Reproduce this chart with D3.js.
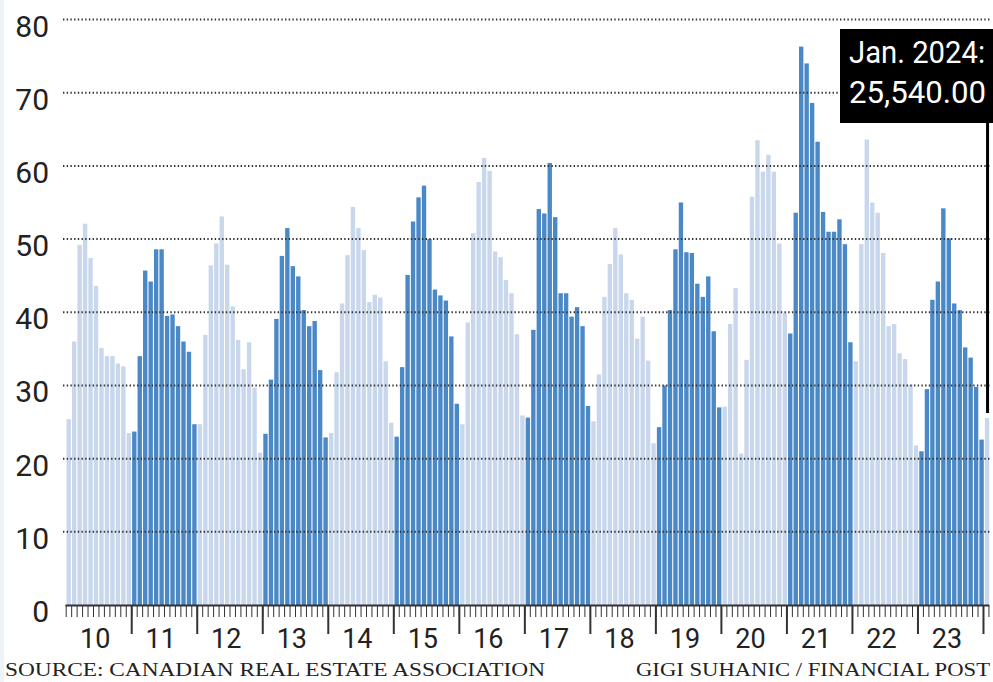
<!DOCTYPE html>
<html>
<head>
<meta charset="utf-8">
<script src="https://cdn.jsdelivr.net/npm/d3@7"></script>
<style>
  html, body { margin: 0; padding: 0; background: #fff; }
  svg { display: block; }
</style>
</head>
<body>
<div id="chart"></div>
<script>
// Monthly values (thousands)
const s2010 = [25.4, 36.0, 49.2, 52.1, 47.4, 43.6, 35.1, 34.0, 34.0, 33.0, 32.6, 23.5];
const s2011 = [23.7, 34.0, 45.7, 44.2, 48.6, 48.6, 39.5, 39.7, 38.1, 36.0, 34.6, 24.7];
const s2012 = [24.7, 36.9, 46.4, 49.4, 53.1, 46.5, 40.8, 36.2, 32.2, 35.9, 29.7, 20.8];
const s2013 = [23.4, 30.8, 39.1, 47.7, 51.5, 46.3, 44.9, 40.3, 38.1, 38.8, 32.1, 22.9];
const s2014 = [23.5, 31.8, 41.2, 47.8, 54.4, 51.5, 48.5, 41.4, 42.4, 42.0, 33.3, 24.9];
const s2015 = [23.0, 32.5, 45.1, 52.4, 55.7, 57.3, 50.0, 43.1, 42.3, 41.6, 36.7, 27.5];
const s2016 = [24.7, 38.6, 50.8, 57.8, 61.1, 59.3, 48.3, 47.5, 44.4, 42.6, 37.0, 25.9];
const s2017 = [25.6, 37.6, 54.1, 53.5, 60.4, 53.0, 42.6, 42.6, 39.4, 40.7, 38.1, 27.2];
const s2018 = [25.1, 31.5, 42.1, 46.6, 51.5, 47.9, 42.6, 41.7, 36.4, 39.4, 33.4, 22.1];
const s2019 = [24.3, 30.0, 40.3, 48.6, 55.0, 48.2, 48.1, 43.9, 42.1, 44.9, 37.4, 27.0];
const s2020 = [27.1, 38.4, 43.3, 20.7, 33.5, 55.8, 63.5, 59.2, 61.5, 59.2, 49.4, 39.9];
const s2021 = [37.1, 53.6, 76.3, 74.0, 68.6, 63.3, 53.7, 51.0, 51.0, 52.7, 49.3, 35.9];
const s2022 = [33.3, 49.3, 63.6, 55.0, 53.6, 48.1, 38.1, 38.4, 34.4, 33.6, 30.1, 21.8];
const s2023 = [21.0, 29.5, 41.7, 44.2, 54.2, 50.1, 41.2, 40.3, 35.2, 33.8, 29.8, 22.6];
const s2024 = [25.54];

const yearLabels = ["10", "11", "12", "13", "14", "15", "16", "17", "18", "19", "20", "21", "22", "23"];
const yTicks = [0, 10, 20, 30, 40, 50, 60, 70, 80];
const annotation = ["Jan. 2024:", "25,540.00"];
const sourceText = "SOURCE: CANADIAN REAL ESTATE ASSOCIATION";
const creditText = "GIGI SUHANIC / FINANCIAL POST";

const series = [s2010, s2011, s2012, s2013, s2014, s2015, s2016, s2017,
                s2018, s2019, s2020, s2021, s2022, s2023, s2024];

// flatten into month records
const data = [];
series.forEach((vals, yi) => {
  vals.forEach((v, m) => data.push({ i: data.length, year: yi, month: m, value: v }));
});

// Dimensions
const width = 993;
const height = 682;
const x0 = 66.5;
const step = 5.46;

const x = d3.scaleBand()
  .domain(d3.range(data.length))
  .range([x0, x0 + step * data.length])
  .paddingInner(0.2)
  .paddingOuter(0);

const y = d3.scaleLinear()
  .domain([0, 80])
  .range([605, 19.5]);

const light = "#c8d7ec";
const dark = "#4b88c6";

const svg = d3.select("#chart").append("svg")
  .attr("width", width)
  .attr("height", height)
  .attr("viewBox", [0, 0, width, height]);

// faint left strip
svg.append("rect")
  .attr("x", 0).attr("y", 0)
  .attr("width", 4).attr("height", height)
  .attr("fill", "#eef3f8");

// Bars
svg.append("g")
  .selectAll("rect")
  .data(data)
  .join("rect")
  .attr("x", d => x(d.i))
  .attr("width", x.bandwidth())
  .attr("y", d => y(d.value))
  .attr("height", d => y(0) - y(d.value))
  .attr("fill", d => d.year % 2 === 0 ? light : dark);

// Dotted gridlines (drawn over the bars)
svg.append("g")
  .selectAll("line")
  .data(yTicks.filter(t => t > 0))
  .join("line")
  .attr("x1", 63)
  .attr("x2", 990)
  .attr("y1", d => y(d))
  .attr("y2", d => y(d))
  .attr("stroke", "#333")
  .attr("stroke-width", 2)
  .attr("stroke-dasharray", "1.4,2.3");

// Y labels
svg.append("g")
  .attr("font-family", "Roboto, 'Noto Sans', sans-serif")
  .attr("font-size", 30)
  .attr("fill", "#222")
  .attr("text-anchor", "end")
  .selectAll("text")
  .data(yTicks)
  .join("text")
  .attr("x", 49)
  .attr("y", d => y(d) + 17)
  .text(d => d);

// X axis: baseline, month ticks, year ticks
const xEnd = x0 + step * data.length;
const axis = svg.append("g").attr("stroke", "#333");

axis.append("line")
  .attr("x1", x0 - 1).attr("x2", xEnd)
  .attr("y1", y(0) + 0.5).attr("y2", y(0) + 0.5)
  .attr("stroke-width", 2.2);

axis.selectAll(".minor")
  .data(d3.range(data.length + 1))
  .join("line")
  .attr("class", "minor")
  .attr("x1", i => x0 + i * step - 0.3)
  .attr("x2", i => x0 + i * step - 0.3)
  .attr("y1", y(0))
  .attr("y2", y(0) + 12)
  .attr("stroke-width", 1);

axis.selectAll(".major")
  .data(d3.range(1, yearLabels.length + 1))
  .join("line")
  .attr("class", "major")
  .attr("x1", k => x0 + k * 12 * step - 0.3)
  .attr("x2", k => x0 + k * 12 * step - 0.3)
  .attr("y1", y(0))
  .attr("y2", y(0) + 29)
  .attr("stroke-width", 2);

svg.append("g")
  .attr("font-family", "Roboto, 'Noto Sans', sans-serif")
  .attr("font-size", 27)
  .attr("fill", "#222")
  .attr("text-anchor", "middle")
  .selectAll("text")
  .data(yearLabels)
  .join("text")
  .attr("x", (d, k) => x0 + (k + 0.5) * 12 * step - 4)
  .attr("y", 648)
  .text(d => d);

// Annotation box for the last bar
const last = data[data.length - 1];
const lineX = x(last.i) + x.bandwidth() / 2 + 0.5;

svg.append("rect")
  .attr("x", 840).attr("y", 29)
  .attr("width", 160).attr("height", 94)
  .attr("fill", "#000");

svg.append("line")
  .attr("x1", lineX).attr("x2", lineX)
  .attr("y1", 120)
  .attr("y2", y(last.value) - 5)
  .attr("stroke", "#000")
  .attr("stroke-width", 3);

svg.append("g")
  .attr("font-family", "Roboto, 'Noto Sans', sans-serif")
  .attr("font-size", 31)
  .attr("fill", "#fff")
  .selectAll("text")
  .data(annotation)
  .join("text")
  .attr("x", 849)
  .attr("y", (d, k) => 63 + k * 40)
  .attr("textLength", (d, k) => k === 0 ? 136 : 137)
  .attr("lengthAdjust", "spacingAndGlyphs")
  .text(d => d);

// Footer
svg.append("text")
  .attr("x", 5)
  .attr("y", 676)
  .attr("font-family", "'Liberation Serif', 'DejaVu Serif', serif")
  .attr("font-size", 19)
  .attr("fill", "#222")
  .attr("textLength", 540)
  .attr("lengthAdjust", "spacingAndGlyphs")
  .text(sourceText);

svg.append("text")
  .attr("x", 990)
  .attr("y", 676)
  .attr("text-anchor", "end")
  .attr("font-family", "'Liberation Serif', 'DejaVu Serif', serif")
  .attr("font-size", 19)
  .attr("fill", "#222")
  .attr("textLength", 354)
  .attr("lengthAdjust", "spacingAndGlyphs")
  .text(creditText);
</script>
</body>
</html>
